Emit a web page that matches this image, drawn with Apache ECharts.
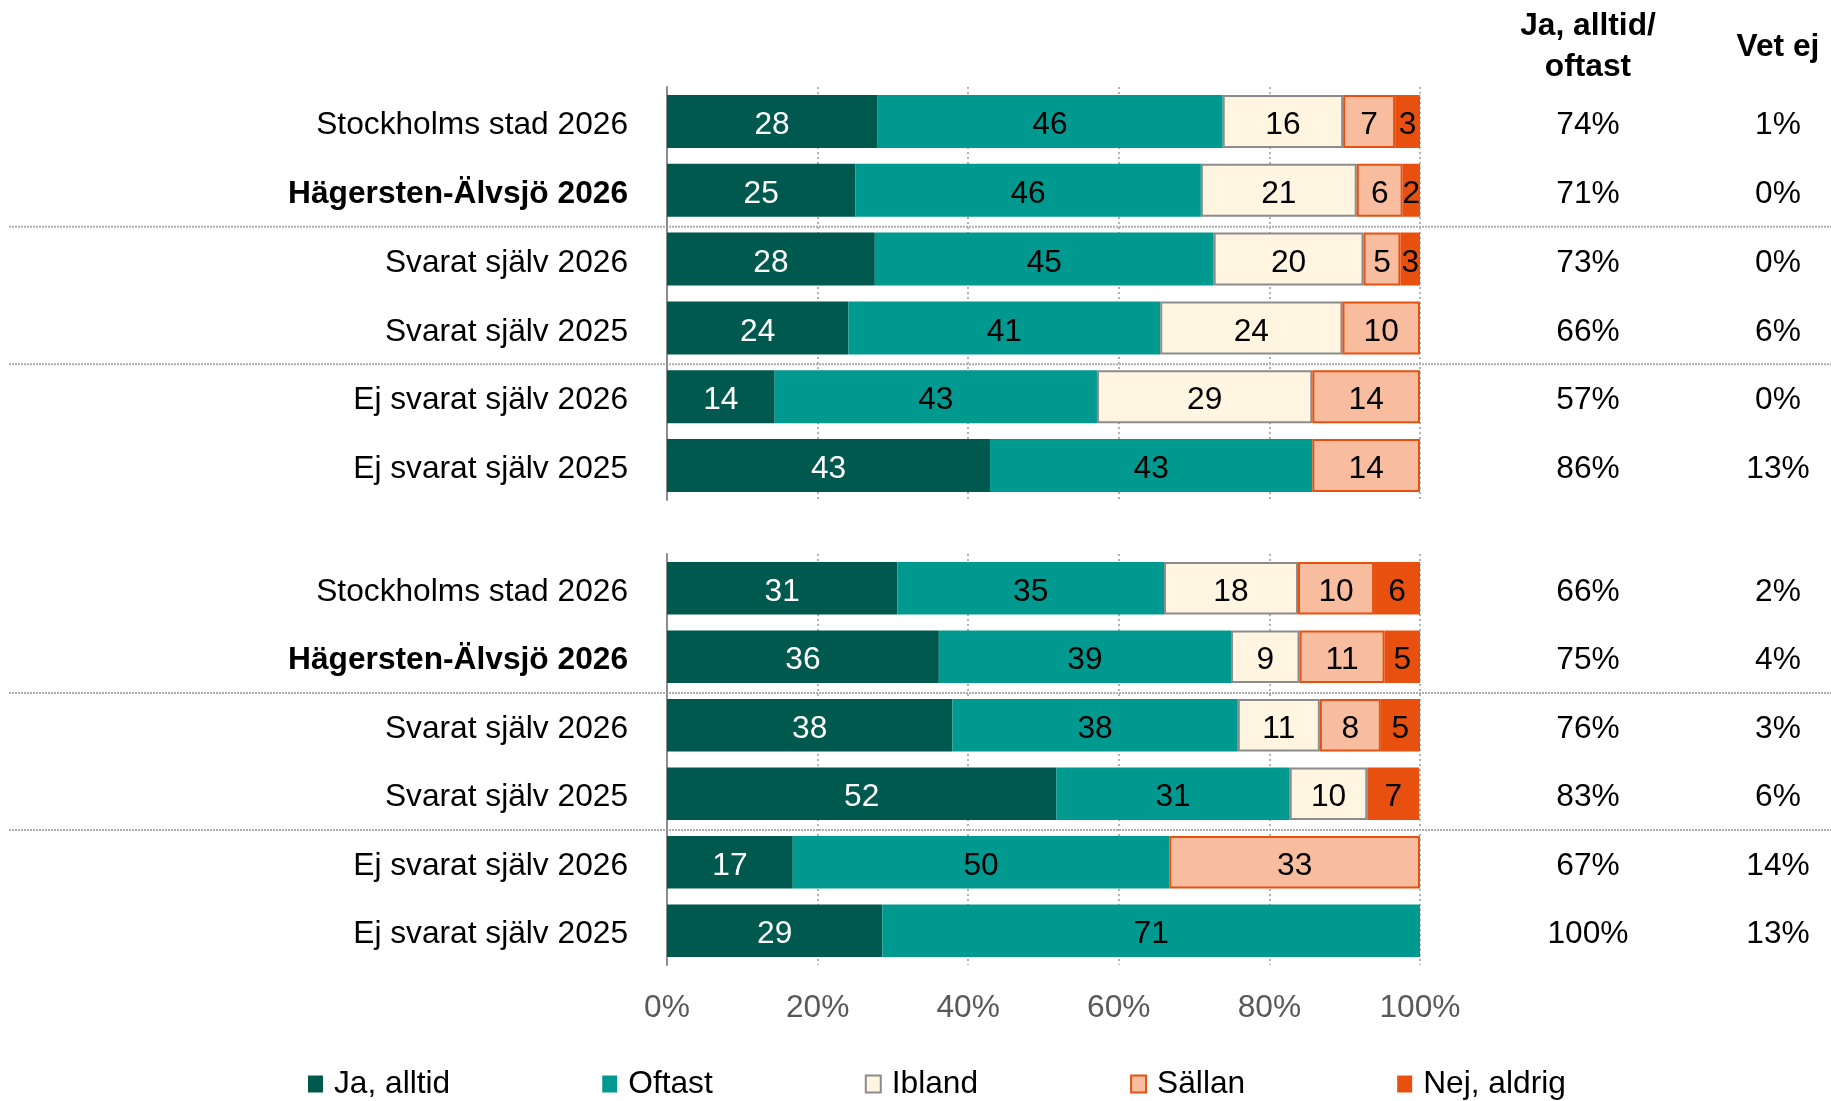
<!DOCTYPE html>
<html><head><meta charset="utf-8">
<script src="https://cdn.jsdelivr.net/npm/echarts@6/dist/echarts.min.js"></script>
<style>html,body{margin:0;padding:0;background:#fff}#c{width:1831px;height:1101px}</style>
</head><body><div id="c"></div>
<script>
const categories = ['Stockholms stad 2026','Hägersten-Älvsjö 2026','Svarat själv 2026','Svarat själv 2025','Ej svarat själv 2026','Ej svarat själv 2025'];
const seriesNames = ['Ja, alltid','Oftast','Ibland','Sällan','Nej, aldrig'];
// Group 1 (upper block)
const jaAlltid1 = [27.9,25.0,27.6,24.1,14.3,42.9];
const oftast1   = [45.9,45.9,45.0,41.4,42.8,42.8];
const ibland1   = [16.0,20.7,19.9,24.2,28.6,0];
const sallan1   = [6.9,6.1,4.9,10.3,14.3,14.3];
const nej1      = [3.3,2.3,2.6,0,0,0];
const jaOftast1 = [74,71,73,66,57,86];
const vetEj1    = [1,0,0,6,0,13];
// Group 2 (lower block)
const jaAlltid2 = [30.6,36.1,37.9,51.7,16.7,28.6];
const oftast2   = [35.4,38.8,37.9,31.0,50.0,71.4];
const ibland2   = [17.8,9.1,10.9,10.3,0,0];
const sallan2   = [10.1,11.3,8.1,0,33.3,0];
const nej2      = [6.1,4.7,5.2,6.9,0,0];
const jaOftast2 = [66,75,76,83,67,100];
const vetEj2    = [2,4,3,6,14,13];
const xTickMin = 0, xTickMax = 100, xTickStep = 20;
const headerYes = 'Ja, alltid/\noftast';
const headerVet = 'Vet ej';

const FONT = "'Liberation Sans', Arial, sans-serif";
const FS = 31.7;
const colors = ['#00594F','#00998F','#FFF5E1','#F8BD9E','#E8500F'];
const borders = [null,null,'#8C8C8C','#E8500F',null];
const labelColors = ['#ffffff','#000000','#000000','#000000','#000000'];

const groups = [
  {data:[jaAlltid1,oftast1,ibland1,sallan1,nej1], yes:jaOftast1, vet:vetEj1},
  {data:[jaAlltid2,oftast2,ibland2,sallan2,nej2], yes:jaOftast2, vet:vetEj2}
];

const chart = echarts.init(document.getElementById('c'));
const grids = [
  {left:667, right:411, top:87, height:413},
  {left:667, right:411, top:554, height:411}
];
const xAxes = [], yAxes = [], series = [];
groups.forEach((g, gi) => {
  xAxes.push({
    type:'value', gridIndex:gi, min:xTickMin, max:xTickMax, interval:xTickStep,
    axisLine:{show:false}, axisTick:{show:false},
    axisLabel:{show: gi===1, formatter:'{value}%', color:'#595959', fontSize:FS, fontFamily:FONT, margin:27},
    splitLine:{show:true, lineStyle:{color:'#B3B3B3', width:2, type:[2,3]}}
  });
  yAxes.push({
    type:'category', gridIndex:gi, data:categories, inverse:true,
    axisLine:{show:true, lineStyle:{color:'#8C8C8C', width:2}},
    axisTick:{show:false},
    axisLabel:{
      margin:39, fontSize:FS, fontFamily:FONT, color:'#000', padding:[8,0,0,0],
      formatter:v => v.startsWith('Hägersten') ? '{b|'+v+'}' : '{n|'+v+'}',
      rich:{
        b:{fontWeight:'bold', fontSize:FS, fontFamily:FONT, color:'#000'},
        n:{fontSize:FS, fontFamily:FONT, color:'#000'}
      }
    }
  });
  yAxes.push({
    type:'category', gridIndex:gi, data:categories, inverse:true, position:'right',
    axisLine:{show:false}, axisTick:{show:false},
    axisLabel:{
      margin:100, align:'left', fontSize:FS, fontFamily:FONT, color:'#000', padding:[8,0,0,0],
      formatter:(v, i) => '{a|' + g.yes[i] + '%}{c|' + g.vet[i] + '%}',
      rich:{
        a:{width:136, align:'center', fontSize:FS, fontFamily:FONT, color:'#000'},
        c:{width:244, align:'center', fontSize:FS, fontFamily:FONT, color:'#000'}
      }
    }
  });
  g.data.forEach((arr, si) => {
    series.push({
      type:'bar', name:seriesNames[si], xAxisIndex:gi, yAxisIndex:gi*2,
      stack:'g'+gi, barWidth:'77%', data:arr.map(v => v === 0 ? '-' : v),
      itemStyle:{color:colors[si], borderColor:borders[si] || colors[si], borderWidth:borders[si] ? 2 : 0},
      label:{show:true, position:'inside', offset:[0,4], color:labelColors[si], fontSize:FS, fontFamily:FONT,
        formatter:p => p.value > 0 ? String(Math.round(p.value)) : ''},
      emphasis:{disabled:true}
    });
  });
});

chart.setOption({
  animation:false,
  textStyle:{fontFamily:FONT},
  grid:grids,
  xAxis:xAxes,
  yAxis:yAxes,
  legend:{
    data:seriesNames, left:308, top:1066, padding:0, itemGap:152,
    itemWidth:15, itemHeight:17, icon:'rect',
    textStyle:{fontSize:FS, fontFamily:FONT, color:'#000', lineHeight:36, padding:[0,0,0,6]}
  },
  series:series,
  graphic:[
    {id:'h1', type:'text', x:1588, y:6, style:{text:headerYes, fontSize:FS, fontWeight:'bold', fontFamily:FONT, fill:'#000', align:'center', verticalAlign:'top', lineHeight:41}},
    {id:'h2', type:'text', x:1778, y:27, style:{text:headerVet, fontSize:FS, fontWeight:'bold', fontFamily:FONT, fill:'#000', align:'center', verticalAlign:'top', lineHeight:41}}
  ]
});

// separator lines between category pairs, positioned through the category axes
const seps = [];
[0,2].forEach((ax, k) => {
  [[1,2],[3,4]].forEach(([a,b], j) => {
    const y = (chart.convertToPixel({yAxisIndex:ax}, a) + chart.convertToPixel({yAxisIndex:ax}, b)) / 2 + 2;
    seps.push({id:'sep'+k+j, type:'line', z:-1, shape:{x1:9, y1:y, x2:1831, y2:y},
      style:{stroke:'#ADADAD', lineWidth:2, lineDash:[2,1]}});
  });
});
chart.setOption({graphic:seps});
</script></body></html>
